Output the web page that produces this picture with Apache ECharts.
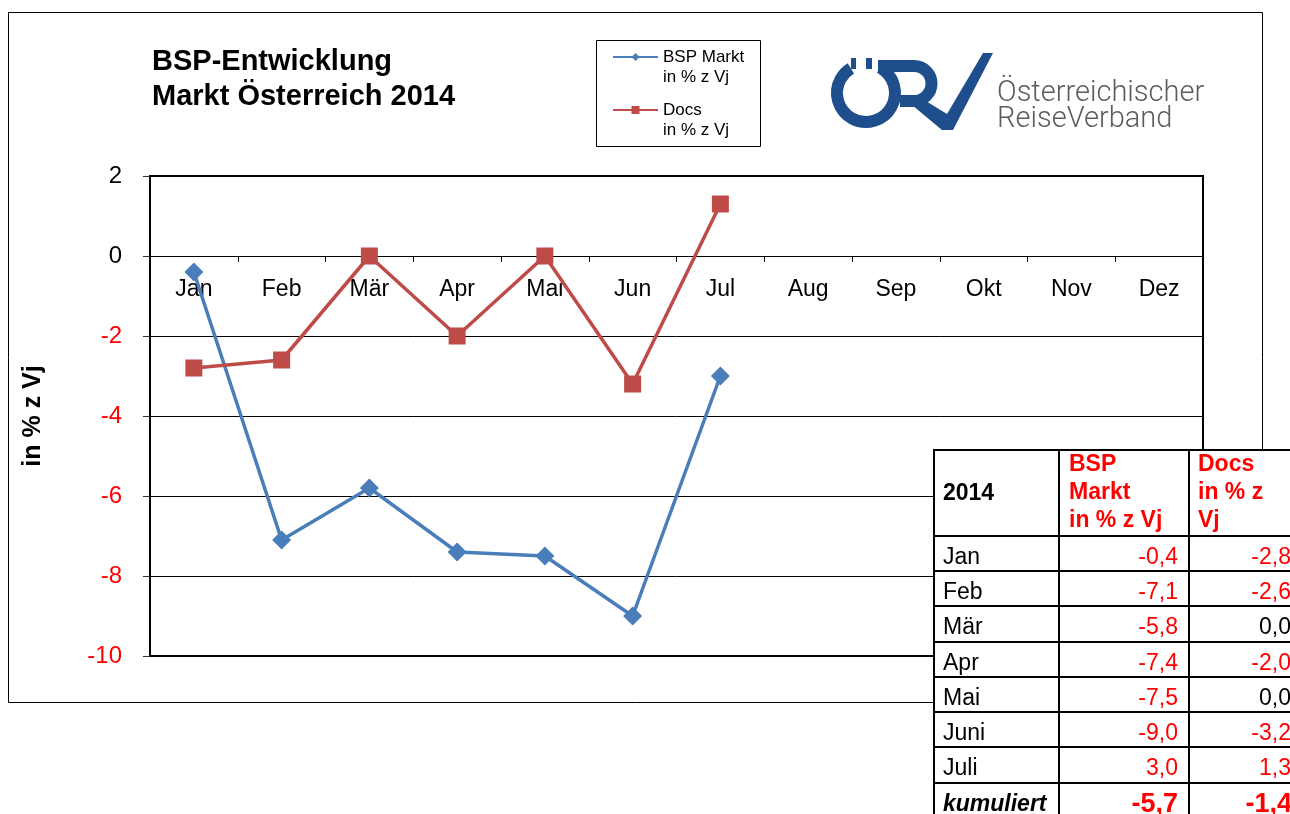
<!DOCTYPE html>
<html>
<head>
<meta charset="utf-8">
<script src="https://cdn.jsdelivr.net/npm/echarts@6/dist/echarts.min.js"></script>
<style>
  html, body { margin: 0; padding: 0; background: #fff; }
  #main { width: 1290px; height: 814px; }
</style>
</head>
<body>
<div id="main"></div>
<script>
// chart data
var months = ['Jan', 'Feb', 'Mär', 'Apr', 'Mai', 'Jun', 'Jul', 'Aug', 'Sep', 'Okt', 'Nov', 'Dez'];
var bspMarkt = [-0.4, -7.1, -5.8, -7.4, -7.5, -9.0, -3.0];
var docs = [-2.8, -2.6, 0.0, -2.0, 0.0, -3.2, 1.3];
var yTicks = [2, 0, -2, -4, -6, -8, -10];

// table data
var tableRows = ['Jan', 'Feb', 'Mär', 'Apr', 'Mai', 'Juni', 'Juli'];
var tableBsp = [-0.4, -7.1, -5.8, -7.4, -7.5, -9.0, 3.0];
var tableDocs = [-2.8, -2.6, 0.0, -2.0, 0.0, -3.2, 1.3];
var cumBsp = -5.7;
var cumDocs = -1.4;

var FONT = '"Liberation Sans", Arial, sans-serif';
var fmt = function (v) { return v.toFixed(1).replace('.', ','); };

var dom = document.getElementById('main');
var chart = echarts.init(dom, null, { renderer: 'canvas' });

// table graphic
var colX = [934, 1059, 1189, 1319];
var rowY = [450, 536, 571, 606, 642, 677, 712, 747, 783, 818];
var tbl = [];
for (var r = 0; r < rowY.length - 1; r++) {
    for (var c = 0; c < 3; c++) {
        tbl.push({
            type: 'rect', z: 20,
            shape: { x: colX[c], y: rowY[r], width: colX[c + 1] - colX[c], height: rowY[r + 1] - rowY[r] },
            style: { fill: '#fff', stroke: '#000', lineWidth: 2 }
        });
    }
}
function txt(x, y, s, opt) {
    return {
        type: 'text', z: 21, x: x, y: y,
        style: Object.assign({
            text: s, fill: '#000', fontSize: 23, fontFamily: FONT,
            align: 'left', verticalAlign: 'middle'
        }, opt || {})
    };
}
tbl.push(txt(943, 494, '2014', { fontWeight: 'bold' }));
tbl.push(txt(1069, 451, 'BSP\nMarkt\nin % z Vj', { fontWeight: 'bold', fill: '#ff0000', verticalAlign: 'top', lineHeight: 28 }));
tbl.push(txt(1198, 451, 'Docs\nin % z\nVj', { fontWeight: 'bold', fill: '#ff0000', verticalAlign: 'top', lineHeight: 28 }));
tableRows.forEach(function (name, i) {
    var cy = (rowY[i + 1] + rowY[i + 2]) / 2 + 4;
    tbl.push(txt(943, cy, name));
    tbl.push(txt(1178, cy, fmt(tableBsp[i]), { align: 'right', fill: tableBsp[i] !== 0 ? '#ff0000' : '#000' }));
    tbl.push(txt(1291, cy, fmt(tableDocs[i]), { align: 'right', fill: tableDocs[i] !== 0 ? '#ff0000' : '#000' }));
});
var ky = (rowY[8] + rowY[9]) / 2 + 4;
tbl.push(txt(943, ky, 'kumuliert', { fontWeight: 'bold', fontStyle: 'italic' }));
tbl.push(txt(1178, ky, fmt(cumBsp), { align: 'right', fill: '#ff0000', fontWeight: 'bold', fontSize: 27 }));
tbl.push(txt(1292, ky, fmt(cumDocs), { align: 'right', fill: '#ff0000', fontWeight: 'bold', fontSize: 27 }));

// logo
var logoBlue = '#1f4e8c';
var logoGrey = '#5b5c5e';
var logo = [
    { type: 'arc', z: 5,
      shape: { cx: 866, cy: 93, r: 29, startAngle: -Math.PI / 2 + 0.5, endAngle: -Math.PI / 2 - 0.55 + 2 * Math.PI, clockwise: true },
      style: { fill: null, stroke: logoBlue, lineWidth: 12 } },
    { type: 'rect', z: 5, shape: { x: 851, y: 58, width: 5, height: 11 }, style: { fill: logoBlue } },
    { type: 'rect', z: 5, shape: { x: 866, y: 58, width: 6, height: 11 }, style: { fill: logoBlue } },
    { type: 'polyline', z: 5, shape: { points: [[878, 66], [914, 66]] },
      style: { stroke: logoBlue, lineWidth: 12 } },
    { type: 'arc', z: 5, shape: { cx: 914, cy: 83.5, r: 17.5, startAngle: -Math.PI / 2, endAngle: Math.PI / 2, clockwise: true },
      style: { fill: null, stroke: logoBlue, lineWidth: 12 } },
    { type: 'polyline', z: 5, shape: { points: [[914, 101], [900, 101]] },
      style: { stroke: logoBlue, lineWidth: 12 } },
    { type: 'polygon', z: 5, shape: { points: [[900, 95], [916, 95], [947, 114], [983, 53], [993, 53], [953, 130], [942, 130]] },
      style: { fill: logoBlue } },
    txt(997, 94, 'Österreichischer', { fill: logoGrey, fontSize: 29, fontFamily: 'Roboto', fontWeight: 300, z: 5 }),
    txt(997, 120, 'ReiseVerband', { fill: logoGrey, fontSize: 29, fontFamily: 'Roboto', fontWeight: 300, z: 5 })
];

var option = {
    animation: false,
    backgroundColor: '#fff',
    title: {
        text: 'BSP-Entwicklung\nMarkt Österreich 2014',
        left: 147, top: 39,
        textStyle: { fontFamily: FONT, fontSize: 29, fontWeight: 'bold', color: '#000', lineHeight: 35 }
    },
    legend: {
        orient: 'vertical',
        left: 612, top: 27,
        padding: 0,
        itemGap: -7,
        itemWidth: 45, itemHeight: 10,
        textStyle: { fontFamily: FONT, fontSize: 17, color: '#000', lineHeight: 20 },
        formatter: function (name) { return '\n' + name + '\nin % z Vj'; },
        data: ['BSP Markt', 'Docs']
    },
    grid: {
        left: 150, top: 176, width: 1053, height: 480,
        show: true, borderColor: '#000', borderWidth: 2, backgroundColor: 'transparent'
    },
    xAxis: {
        type: 'category',
        data: months,
        boundaryGap: true,
        axisLine: { onZero: true, lineStyle: { color: '#000', width: 1 } },
        axisTick: { show: true, length: 6, lineStyle: { color: '#000' } },
        axisLabel: { fontFamily: FONT, fontSize: 23, color: '#000', margin: -378 },
        splitLine: { show: false }
    },
    yAxis: {
        type: 'value',
        min: yTicks[yTicks.length - 1], max: yTicks[0], interval: 2,
        name: 'in % z Vj',
        nameLocation: 'middle',
        nameRotate: 90,
        nameGap: 104,
        nameTextStyle: { fontFamily: FONT, fontSize: 25, fontWeight: 'bold', color: '#000' },
        axisLine: { show: true, lineStyle: { color: '#000', width: 2 } },
        axisTick: { show: true, length: 7, lineStyle: { color: '#333' } },
        axisLabel: {
            fontFamily: FONT, fontSize: 24, margin: 28,
            color: function (v) { return Number(v) < 0 ? '#ff0000' : '#000'; }
        },
        splitLine: { show: true, lineStyle: { color: '#000', width: 1 } }
    },
    series: [
        {
            name: 'BSP Markt', type: 'line', data: bspMarkt,
            symbol: 'diamond', symbolSize: 19,
            itemStyle: { color: '#4a7ebb' },
            lineStyle: { color: '#4a7ebb', width: 3.5 },
            z: 3
        },
        {
            name: 'Docs', type: 'line', data: docs,
            symbol: 'rect', symbolSize: 17,
            itemStyle: { color: '#be4b48' },
            lineStyle: { color: '#be4b48', width: 3.5 },
            z: 4
        }
    ],
    graphic: {
        elements: [
            { type: 'rect', z: -1, shape: { x: 8.5, y: 12.5, width: 1254, height: 690 },
              style: { fill: null, stroke: '#000', lineWidth: 1 } },
            { type: 'rect', z: 1, shape: { x: 596.5, y: 40.5, width: 164, height: 106 },
              style: { fill: null, stroke: '#000', lineWidth: 1 } }
        ].concat(logo).concat(tbl)
    }
};

chart.setOption(option);
window.addEventListener('resize', chart.resize);
</script>
</body>
</html>
